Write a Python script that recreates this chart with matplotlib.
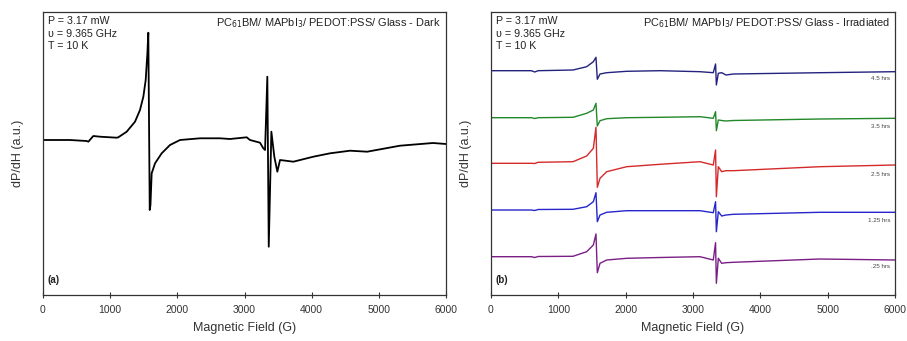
import matplotlib
matplotlib.use("Agg")
import matplotlib.pyplot as plt

plt.rcParams['font.family'] = ['Liberation Sans', 'DejaVu Sans']

# ---- Data (y in arbitrary units) ----
x_ticks = [0, 1000, 2000, 3000, 4000, 5000, 6000]

# Panel (a): dark
dark_field = [0, 400, 650, 675, 749, 849, 1097, 1121, 1246, 1370, 1444, 1494, 1529, 1554, 1568,
              1589, 1600, 1618, 1668, 1767, 1891, 2040, 2338, 2636, 2784, 3033, 3082, 3231, 3280,
              3306, 3340, 3361, 3400, 3444, 3489, 3529, 3727, 4025, 4274, 4571, 4826, 5315,
              5806, 6000]
dark_signal = [155, 155, 154, 153.3, 159, 158.3, 157.3, 157.7, 163.3, 173.3, 185, 198.3, 215,
               241.7, 262.3, 85, 90, 121.7, 131.7, 141.7, 150, 155, 156.7, 156.7, 156, 157.7,
               155, 152.3, 146.7, 145, 218.3, 48.3, 163.3, 138.3, 123.3, 135, 133.3, 138.3,
               141.7, 144.3, 143.3, 149.3, 152, 151]

# Panel (b): irradiated, one trace per irradiation time
irr_labels = ['4.5 hrs', '3.5 hrs', '2.5 hrs', '1.25 hrs', '.25 hrs']
irr_colors = ['#23237f', '#22882a', '#d42a2a', '#2626cc', '#7a1f86']
irr_field = [0, 600, 650, 700, 1218, 1421, 1520, 1559, 1579, 1619, 1718, 2015, 2510, 3104,
             3301, 3335, 3347, 3376, 3426, 3490, 3599, 4886, 6000]
irr_signal = [
    [224.3, 224.3, 223, 224.3, 225, 228.3, 233.3, 237.7, 215.7, 221, 222.3, 223.7, 224.3,
     223.3, 222.3, 231, 210, 221.7, 222.3, 220, 221, 222.3, 223.3],
    [177.3, 177.3, 176.5, 177.3, 177.7, 181.7, 185, 191.7, 169, 174.3, 176.3, 177.3, 177.7,
     178.3, 176.7, 183.3, 164.3, 175, 174.5, 174, 174.5, 176, 176.7],
    [131.7, 131.7, 131.5, 132.7, 133.3, 139, 146.7, 167.7, 107.7, 116.7, 123.3, 128.3, 130.7,
     133.3, 130, 145, 98.3, 128.3, 123.3, 124.3, 124.3, 128.3, 130],
    [85, 85, 84.5, 85.5, 85.7, 88.3, 93.3, 102.3, 73.3, 80, 82.7, 84.3, 84.3, 84.3, 82.3,
     93.3, 63.3, 83.3, 79, 80, 80.7, 82.7, 82.7],
    [38.3, 38.3, 37.5, 38.5, 38.7, 43.3, 50, 61, 22.3, 31.7, 35, 36.7, 37.5, 38.3, 35,
     52.3, 11.7, 36.7, 31.7, 32.3, 32.7, 36, 35],
]
label_y = [217, 168, 121, 75, 28]

fig = plt.figure(figsize=(9.07, 3.41), dpi=100)
axA = fig.add_axes([43 / 907, 46 / 341, 403 / 907, 283 / 341])
axB = fig.add_axes([491 / 907, 46 / 341, 404 / 907, 283 / 341])

axA.plot(dark_field, dark_signal, color='black', lw=1.3)
for sig, col in zip(irr_signal, irr_colors):
    axB.plot(irr_field, sig, color=col, lw=1.0)
for lab, ly in zip(irr_labels, label_y):
    axB.text(5930, ly, lab, fontsize=4.5, color='#444444', ha='right', va='center')

for ax, title, tag in [(axA, 'PC$_{61}$BM/ MAPbI$_3$/ PEDOT:PSS/ Glass - Dark', '(a)'),
                       (axB, 'PC$_{61}$BM/ MAPbI$_3$/ PEDOT:PSS/ Glass - Irradiated', '(b)')]:
    ax.set_xlim(0, 6000)
    ax.set_ylim(0, 283)
    ax.set_xticks(x_ticks)
    ax.set_xticklabels([str(t) for t in x_ticks], fontsize=7.5, color='#333333')
    ax.set_yticks([])
    ax.tick_params(axis='x', direction='inout', length=4, width=0.8, pad=5, color='#333333')
    for s in ax.spines.values():
        s.set_color('#333333')
        s.set_linewidth(0.9)
    ax.set_xlabel('Magnetic Field (G)', fontsize=9, color='#333333', labelpad=5)
    ax.set_ylabel('dP/dH (a.u.)', fontsize=9, color='#333333', labelpad=14)
    ax.text(0.012, 0.985, 'P = 3.17 mW\n\u03c5 = 9.365 GHz\nT = 10 K', transform=ax.transAxes,
            fontsize=7.7, va='top', ha='left', color='#222222', linespacing=1.3)
    ax.text(0.988, 0.985, title, transform=ax.transAxes, fontsize=7.9, va='top', ha='right',
            color='#222222')
    ax.text(0.01, 0.035, tag, transform=ax.transAxes, fontsize=7, fontweight='bold',
            va='bottom', ha='left', color='#222222')

fig.savefig('out.png', dpi=100)
